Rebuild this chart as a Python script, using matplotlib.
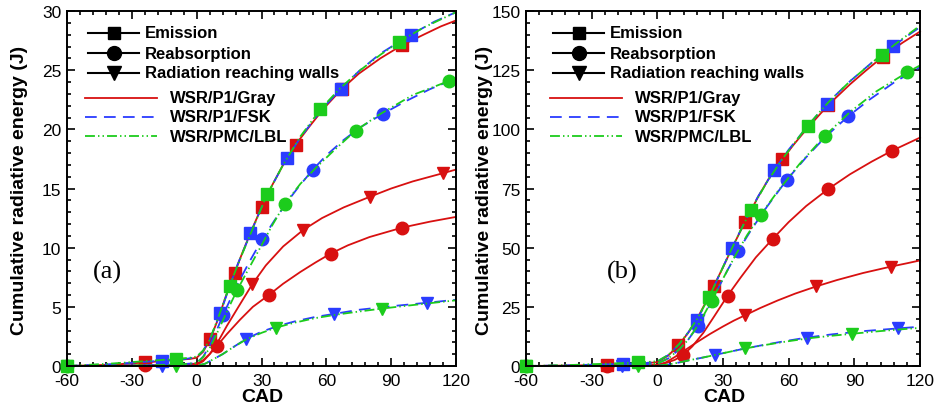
import matplotlib.pyplot as plt
from matplotlib.lines import Line2D
from matplotlib.ticker import MultipleLocator

plt.rcParams['axes.unicode_minus'] = False
plt.rcParams['font.family'] = ['Liberation Sans', 'DejaVu Sans']

# ---------------- panel (a) ----------------
em_gray_a_x = [-60, -40, -23.8, -10, -3, 0, 3, 6.3, 10, 13.5, 17.6, 21, 25, 30, 35, 40, 45.8, 52, 59, 67.1, 75, 85, 94.9, 105, 113, 120]
em_gray_a_y = [0, 0.1, 0.3, 0.5, 0.6, 0.7, 1.2, 2.3, 4.0, 5.9, 7.9, 9.5, 11.3, 13.4, 15.3, 17.0, 18.7, 20.2, 21.8, 23.4, 24.7, 26.0, 27.1, 28.0, 28.7, 29.2]
em_gray_a_mk = [-23.8, 6.3, 17.6, 30, 45.8, 67.1, 94.9]

em_fsk_a_x = [-60, -40, -16.1, -5, 0, 3, 6, 11, 15, 19, 24.9, 30, 35, 41.9, 48, 55, 60, 66.6, 75, 85, 99.1, 110, 120]
em_fsk_a_y = [0, 0.15, 0.45, 0.6, 0.75, 1.3, 2.2, 4.5, 6.6, 8.6, 11.2, 13.4, 15.3, 17.6, 19.3, 21.0, 22.1, 23.4, 24.9, 26.4, 28.0, 29.1, 29.9]
em_fsk_a_mk = [-16.1, 11, 24.9, 41.9, 66.6, 99.1]

em_lbl_a_x = [-60, -40, -9.4, -3, 0, 3, 6, 10, 15.3, 20, 25, 32.6, 40, 48, 57.3, 66, 75, 85, 93.7, 105, 120]
em_lbl_a_y = [0, 0.2, 0.6, 0.7, 0.8, 1.3, 2.2, 4.1, 6.8, 9.0, 11.2, 14.5, 17.0, 19.4, 21.7, 23.4, 24.9, 26.3, 27.4, 28.6, 29.9]
em_lbl_a_mk = [-60, -9.4, 15.3, 32.6, 57.3, 93.7]

re_gray_a_x = [-60, -40, -23.8, -10, 0, 3, 6, 9.4, 14, 20, 26, 33.4, 40, 48, 55, 62, 70, 80, 95.2, 108, 120]
re_gray_a_y = [0, 0.02, 0.05, 0.1, 0.2, 0.5, 1.0, 1.7, 2.7, 3.9, 5.0, 6.0, 6.95, 7.95, 8.75, 9.5, 10.2, 10.9, 11.7, 12.2, 12.6]
re_gray_a_mk = [-23.8, 9.4, 33.4, 62, 95.2]

re_fsk_a_x = [-60, -40, -10, 0, 3, 6, 9, 12.2, 16, 20, 25, 30.3, 36, 42, 47, 53.8, 60, 68, 76, 86, 97, 108, 120]
re_fsk_a_y = [0, 0.02, 0.1, 0.25, 0.8, 1.7, 2.9, 4.3, 5.8, 7.3, 9.0, 10.7, 12.3, 13.9, 15.1, 16.6, 17.8, 19.1, 20.2, 21.3, 22.4, 23.4, 24.3]
re_fsk_a_mk = [12.2, 30.3, 53.8, 86]

re_lbl_a_x = [-60, -40, -10, 0, 3, 6, 9, 12, 15, 18.7, 24, 30, 35, 40.8, 48, 56, 64, 73.6, 85, 100, 116.9, 120]
re_lbl_a_y = [0, 0.02, 0.1, 0.25, 0.75, 1.5, 2.6, 3.8, 5.0, 6.4, 8.2, 10.2, 11.9, 13.7, 15.4, 16.9, 18.3, 19.9, 21.3, 22.9, 24.1, 24.3]
re_lbl_a_mk = [-60, 18.7, 40.8, 73.6, 116.9]

wa_gray_a_x = [-60, -30, -10, 0, 3, 6, 9.4, 14, 20, 25.7, 32, 40, 49.3, 58, 68, 80.1, 90, 100, 114.1, 120]
wa_gray_a_y = [0, 0.03, 0.05, 0.1, 0.4, 1.0, 1.9, 3.4, 5.2, 6.9, 8.5, 10.1, 11.5, 12.5, 13.4, 14.3, 15.0, 15.6, 16.3, 16.6]
wa_gray_a_mk = [25.7, 49.3, 80.1, 114.1]

wa_fsk_a_x = [-60, -16.1, 0, 4, 8, 12, 17, 23, 30, 38, 46, 55, 63.5, 75, 90, 106.8, 120]
wa_fsk_a_y = [0, 0, 0.02, 0.2, 0.6, 1.0, 1.6, 2.3, 2.9, 3.4, 3.8, 4.15, 4.4, 4.75, 5.05, 5.35, 5.6]
wa_fsk_a_mk = [-16.1, 23, 63.5, 106.8]

wa_lbl_a_x = [-60, -9.4, 0, 4, 8, 12, 17, 23, 30, 36.9, 45, 55, 65, 75, 85.6, 100, 120]
wa_lbl_a_y = [0, 0, 0.02, 0.2, 0.6, 1.0, 1.6, 2.25, 2.8, 3.25, 3.65, 4.05, 4.35, 4.6, 4.85, 5.15, 5.55]
wa_lbl_a_mk = [-60, -9.4, 36.9, 85.6]

# ---------------- panel (b) ----------------
em_gray_b_x = [-60, -40, -22.9, -10, 0, 5, 9.6, 14, 18, 22, 25.8, 30, 34, 40, 46, 51, 57.1, 62, 68, 78.1, 88, 95, 103, 112, 120]
em_gray_b_y = [0, 0.2, 0.4, 0.8, 1.6, 4.4, 8.7, 13.9, 19.7, 26.7, 33.8, 41.7, 49.6, 60.8, 71.4, 79.3, 87.3, 93.2, 99.9, 110.3, 119.0, 124.6, 130.7, 136.6, 141.3]
em_gray_b_mk = [-22.9, 9.6, 25.8, 40, 57.1, 78.1, 103]

em_fsk_b_x = [-60, -40, -15.5, -5, 0, 5, 10, 14, 18, 22, 26, 30, 34, 40, 46, 53.4, 60, 68, 77.4, 88, 98, 107.8, 114, 120]
em_fsk_b_y = [0, 0.3, 0.9, 1.3, 1.9, 4.6, 9.2, 14.0, 19.3, 26.2, 33.8, 41.8, 49.8, 61.0, 71.6, 82.8, 91.4, 100.6, 110.8, 120.3, 128.2, 135.2, 139.3, 143.2]
em_fsk_b_mk = [-15.5, 18, 34, 53.4, 77.4, 107.8]

em_lbl_b_x = [-60, -40, -8.7, -3, 0, 5, 10, 14, 18, 23.6, 30, 36, 42.8, 50, 57, 68.7, 78, 88, 102.5, 112, 120]
em_lbl_b_y = [0, 0.4, 1.5, 1.8, 2.0, 4.7, 9.3, 14.1, 19.6, 29.0, 41.8, 53.5, 66.0, 77.6, 87.3, 101.6, 111.3, 120.3, 131.6, 138.3, 143.8]
em_lbl_b_mk = [-60, -8.7, 23.6, 42.8, 68.7, 102.5]

re_gray_b_x = [-60, -40, -22.9, -10, 0, 4, 8, 11.9, 16, 21, 26, 32.1, 38, 45, 52.7, 60, 68, 78.1, 88, 98, 107.1, 114, 120]
re_gray_b_y = [0, 0.05, 0.1, 0.2, 0.5, 1.3, 2.6, 4.7, 8.3, 14.0, 21.0, 29.7, 37.3, 45.9, 53.7, 60.8, 67.6, 74.8, 81.0, 86.4, 90.9, 93.9, 96.5]
re_gray_b_mk = [-22.9, 11.9, 32.1, 52.7, 78.1, 107.1]

re_fsk_b_x = [-60, -40, -10, 0, 5, 10, 14, 18.5, 23, 28, 32, 37, 43, 50, 59.1, 68, 77, 87.2, 97, 108, 120]
re_fsk_b_y = [0, 0.1, 0.4, 1.0, 3.2, 7.0, 11.0, 16.8, 24.0, 33.2, 40.4, 48.7, 57.7, 67.2, 78.6, 88.2, 97.0, 105.5, 112.6, 119.7, 126.3]
re_fsk_b_mk = [18.5, 37, 59.1, 87.2]

re_lbl_b_x = [-60, -40, -10, 0, 5, 10, 14, 19, 24.8, 30, 36, 41, 47.2, 55, 65, 76.6, 88, 100, 114.2, 120]
re_lbl_b_y = [0, 0.1, 0.4, 1.0, 3.2, 7.0, 11.0, 17.8, 27.6, 36.9, 47.3, 55.3, 63.9, 73.8, 85.4, 97.3, 107.3, 116.0, 124.1, 127.0]
re_lbl_b_mk = [-60, 24.8, 47.2, 76.6, 114.2]

wa_gray_b_x = [-60, -30, -10, 0, 4, 8, 12, 18, 24, 30, 35, 40, 47, 55, 63, 72.5, 82, 94, 106.7, 114, 120]
wa_gray_b_y = [0, 0.05, 0.1, 0.3, 1.6, 3.8, 6.3, 10.0, 13.5, 16.7, 19.2, 21.4, 24.5, 27.7, 30.6, 33.6, 36.3, 39.3, 42.0, 43.4, 44.6]
wa_gray_b_mk = [40, 72.5, 106.7]

wa_fsk_b_x = [-60, -16.3, 0, 5, 10, 16, 21, 26.3, 33, 40, 48, 57, 68.2, 80, 95, 110.1, 120]
wa_fsk_b_y = [0, 0, 0.1, 0.6, 1.5, 2.7, 3.6, 4.7, 6.0, 7.4, 8.8, 10.3, 12.0, 13.4, 14.8, 15.9, 16.6]
wa_fsk_b_mk = [-16.3, 26.3, 68.2, 110.1]

wa_lbl_b_x = [-60, -8.7, 0, 5, 10, 16, 22, 28, 34, 40, 50, 60, 70, 80, 88.8, 100, 110, 120]
wa_lbl_b_y = [0, 0, 0.1, 0.6, 1.5, 2.7, 3.8, 5.0, 6.2, 7.4, 9.0, 10.5, 11.8, 12.8, 13.6, 14.6, 15.4, 16.1]
wa_lbl_b_mk = [-60, -8.7, 40, 88.8]

quantity_labels = ['Emission', 'Reabsorption', 'Radiation reaching walls']
model_labels = ['WSR/P1/Gray', 'WSR/P1/FSK', 'WSR/PMC/LBL']

RED = '#d81010'
BLUE = '#2a3cff'
GREEN = '#1ccc1c'
LW = 1.3
line_style = {
    'gray': dict(color=RED, linestyle='-'),
    'fsk': dict(color=BLUE, dashes=(6.5, 4.0)),
    'lbl': dict(color=GREEN, dashes=(5.5, 1.7, 0.8, 1.7, 0.8, 1.7)),
}
marker_style = {'em': ('s', 8), 're': ('o', 9), 'wa': ('v', 8.5)}

series_a = [
    ('em', 'gray', em_gray_a_x, em_gray_a_y, em_gray_a_mk),
    ('re', 'gray', re_gray_a_x, re_gray_a_y, re_gray_a_mk),
    ('wa', 'gray', wa_gray_a_x, wa_gray_a_y, wa_gray_a_mk),
    ('em', 'fsk', em_fsk_a_x, em_fsk_a_y, em_fsk_a_mk),
    ('re', 'fsk', re_fsk_a_x, re_fsk_a_y, re_fsk_a_mk),
    ('wa', 'fsk', wa_fsk_a_x, wa_fsk_a_y, wa_fsk_a_mk),
    ('wa', 'lbl', wa_lbl_a_x, wa_lbl_a_y, wa_lbl_a_mk),
    ('re', 'lbl', re_lbl_a_x, re_lbl_a_y, re_lbl_a_mk),
    ('em', 'lbl', em_lbl_a_x, em_lbl_a_y, em_lbl_a_mk),
]
series_b = [
    ('em', 'gray', em_gray_b_x, em_gray_b_y, em_gray_b_mk),
    ('re', 'gray', re_gray_b_x, re_gray_b_y, re_gray_b_mk),
    ('wa', 'gray', wa_gray_b_x, wa_gray_b_y, wa_gray_b_mk),
    ('em', 'fsk', em_fsk_b_x, em_fsk_b_y, em_fsk_b_mk),
    ('re', 'fsk', re_fsk_b_x, re_fsk_b_y, re_fsk_b_mk),
    ('wa', 'fsk', wa_fsk_b_x, wa_fsk_b_y, wa_fsk_b_mk),
    ('wa', 'lbl', wa_lbl_b_x, wa_lbl_b_y, wa_lbl_b_mk),
    ('re', 'lbl', re_lbl_b_x, re_lbl_b_y, re_lbl_b_mk),
    ('em', 'lbl', em_lbl_b_x, em_lbl_b_y, em_lbl_b_mk),
]

W, H = 935, 410


def fx(px):
    return px / W


def fy(py):
    return 1 - py / H


def draw_panel(ax, series, ymax, ymajor, yminor):
    for q, m, x, y, mk in series:
        idx = [x.index(v) for v in mk]
        mshape, msize = marker_style[q]
        ax.plot(x, y, lw=LW, marker=mshape, ms=msize, markevery=idx,
                mfc=line_style[m]['color'], mec=line_style[m]['color'],
                clip_on=False, **line_style[m])
    ax.set_xlim(-60, 120)
    ax.set_ylim(0, ymax)
    ax.xaxis.set_major_locator(MultipleLocator(30))
    ax.xaxis.set_minor_locator(MultipleLocator(6))
    ax.yaxis.set_major_locator(MultipleLocator(ymajor))
    ax.yaxis.set_minor_locator(MultipleLocator(yminor))
    ax.tick_params(which='both', direction='in', top=True, right=True,
                   width=1.2, labelsize=12.5)
    ax.tick_params(which='major', length=6)
    ax.tick_params(which='minor', length=3)
    ax.tick_params(axis='x', which='major', pad=5)
    ax.tick_params(axis='y', which='major', pad=4)
    for s in ax.spines.values():
        s.set_linewidth(1.4)


def draw_legend(fig, shift):
    for i, (q, lab) in enumerate(zip(['em', 're', 'wa'], quantity_labels)):
        yy = fy([33.5, 54, 74][i])
        fig.add_artist(Line2D([fx(88 + shift), fx(139 + shift)], [yy, yy],
                              color='black', lw=LW + 0.2))
        mshape, msize = marker_style[q]
        fig.add_artist(Line2D([fx(113.5 + shift)], [yy], color='black',
                              marker=mshape, ms=msize + 1, lw=0))
        fig.text(fx(145 + shift), yy, lab, fontsize=12, fontweight='bold',
                 ha='left', va='center')
    for i, (m, lab) in enumerate(zip(['gray', 'fsk', 'lbl'], model_labels)):
        yy = fy([99, 118, 137][i])
        fig.add_artist(Line2D([fx(85 + shift), fx(157 + shift)], [yy, yy],
                              lw=LW, **line_style[m]))
        fig.text(fx(170 + shift), yy, lab, fontsize=12, fontweight='bold',
                 ha='left', va='center')


fig = plt.figure(figsize=(9.35, 4.1), dpi=100)
ax_a = fig.add_axes([fx(67), fy(367), fx(389), 355 / H])
ax_b = fig.add_axes([fx(526), fy(367), fx(394), 355 / H])

draw_panel(ax_a, series_a, 30, 5, 1)
draw_panel(ax_b, series_b, 150, 25, 5)

draw_legend(fig, 0)
draw_legend(fig, 465)

for cx, tag, lx in [(20, '(a)', 107), (484, '(b)', 622)]:
    fig.text(fx(cx), fy(190), 'Cumulative radiative energy (J)', rotation=90,
             fontsize=14, fontweight='bold', ha='center', va='center')
    fig.text(fx(lx), fy(272), tag, fontsize=19, family='Liberation Serif',
             ha='center', va='center')
fig.text(fx(262), fy(398), 'CAD', fontsize=14, fontweight='bold', ha='center', va='center')
fig.text(fx(724), fy(398), 'CAD', fontsize=14, fontweight='bold', ha='center', va='center')

fig.savefig('out.png', dpi=100)
